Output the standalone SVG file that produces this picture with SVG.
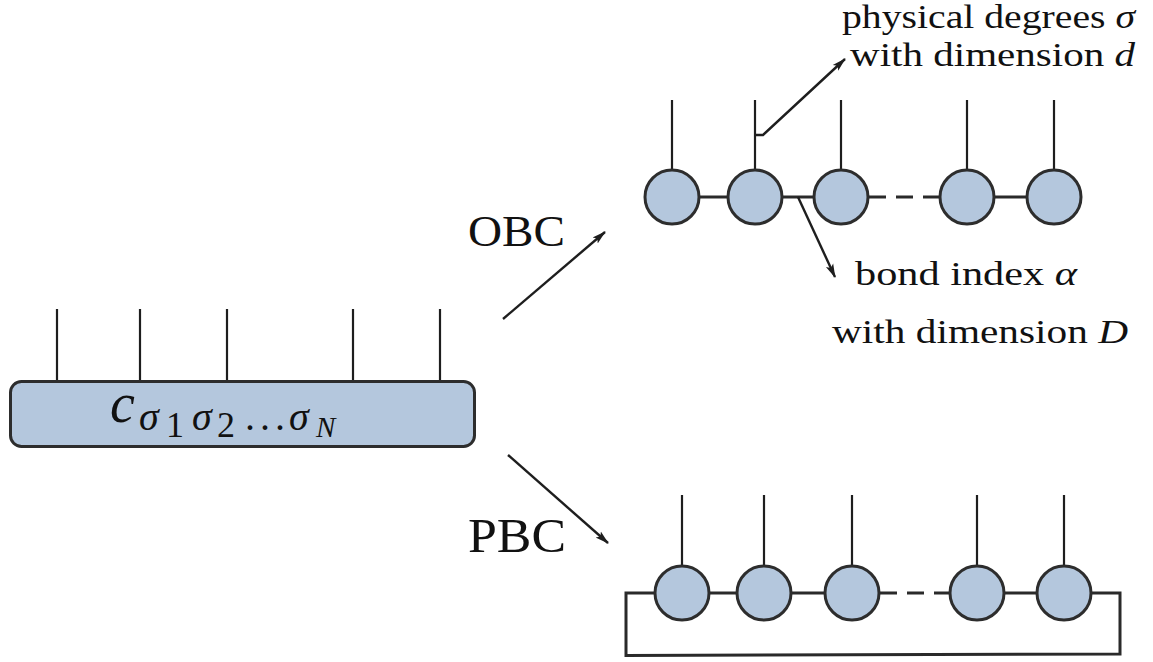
<svg xmlns="http://www.w3.org/2000/svg" width="1153" height="662" viewBox="0 0 1153 662">
  <defs>
    <marker id="arrow" viewBox="0 0 14 10" refX="13" refY="5" markerWidth="14" markerHeight="10" markerUnits="userSpaceOnUse" orient="auto">
      <path d="M0,1 L14,5 L0,9 L3,5 Z" fill="#1e1e1e"/>
    </marker>
  </defs>
  <style>
    .site { fill: #b4c7dd; stroke: #2d2d2d; stroke-width: 3; }
    .box { fill: #b4c7dd; stroke: #2d2d2d; stroke-width: 3; }
    .leg { stroke: #1e1e1e; stroke-width: 2.2; fill: none; }
    .bond { stroke: #2a2a2a; stroke-width: 3; fill: none; }
    .dash { stroke: #2a2a2a; stroke-width: 3; fill: none; stroke-dasharray: 17 10; }
    .arr { stroke: #1e1e1e; stroke-width: 2.4; fill: none; marker-end: url(#arrow); }
    .ann { stroke: #1e1e1e; stroke-width: 2.4; fill: none; }
    .lbl { font-family: "Liberation Serif", "DejaVu Serif", serif; fill: #111; }
    .it { font-style: italic; }
  </style>

  <!-- full coefficient tensor -->
  <g id="tensor">
    <line class="leg" x1="57" y1="309" x2="57" y2="381"/>
    <line class="leg" x1="140" y1="309" x2="140" y2="381"/>
    <line class="leg" x1="227" y1="309" x2="227" y2="381"/>
    <line class="leg" x1="353" y1="309" x2="353" y2="381"/>
    <line class="leg" x1="440" y1="309" x2="440" y2="381"/>
    <rect class="box" x="10.5" y="381.5" width="464" height="65" rx="11" ry="11"/>
    <g class="lbl">
      <text class="it" x="110" y="422" font-size="56">c</text>
      <text class="it" x="139" y="430" font-size="40">σ</text>
      <text x="166" y="437" font-size="36">1</text>
      <text class="it" x="192" y="430" font-size="40">σ</text>
      <text x="217" y="437" font-size="36">2</text>
      <text x="245" y="430" font-size="40" textLength="40" lengthAdjust="spacing">...</text>
      <text class="it" x="289" y="430" font-size="40">σ</text>
      <text class="it" x="316" y="437" font-size="29">N</text>
    </g>
  </g>

  <!-- open boundary MPS -->
  <g id="obc-chain">
    <line class="leg" x1="672" y1="100" x2="672" y2="170"/>
    <line class="leg" x1="755" y1="100" x2="755" y2="170"/>
    <line class="leg" x1="841" y1="100" x2="841" y2="170"/>
    <line class="leg" x1="967" y1="100" x2="967" y2="170"/>
    <line class="leg" x1="1054" y1="100" x2="1054" y2="170"/>
    <line class="bond" x1="699" y1="197" x2="728" y2="197"/>
    <line class="bond" x1="782" y1="197" x2="814" y2="197"/>
    <line class="dash" x1="869" y1="197" x2="940" y2="197"/>
    <line class="bond" x1="994" y1="197" x2="1027" y2="197"/>
    <circle class="site" cx="672" cy="197" r="27"/>
    <circle class="site" cx="755" cy="197" r="27"/>
    <circle class="site" cx="841" cy="197" r="27"/>
    <circle class="site" cx="967" cy="197" r="27"/>
    <circle class="site" cx="1054" cy="197" r="27"/>
  </g>

  <!-- periodic boundary MPS -->
  <g id="pbc-chain">
    <line class="leg" x1="682" y1="495" x2="682" y2="565"/>
    <line class="leg" x1="764" y1="495" x2="764" y2="565"/>
    <line class="leg" x1="852" y1="495" x2="852" y2="565"/>
    <line class="leg" x1="977" y1="495" x2="977" y2="565"/>
    <line class="leg" x1="1064" y1="495" x2="1064" y2="565"/>
    <path class="bond" d="M655,593 L626,593 L626,655.5 L1120,654 L1120,593 L1091,593"/>
    <line class="bond" x1="709" y1="593" x2="737" y2="593"/>
    <line class="bond" x1="791" y1="593" x2="825" y2="593"/>
    <line class="dash" x1="880" y1="593" x2="950" y2="593"/>
    <line class="bond" x1="1004" y1="593" x2="1037" y2="593"/>
    <circle class="site" cx="682" cy="593" r="27"/>
    <circle class="site" cx="764" cy="593" r="27"/>
    <circle class="site" cx="852" cy="593" r="27"/>
    <circle class="site" cx="977" cy="593" r="27"/>
    <circle class="site" cx="1064" cy="593" r="27"/>
  </g>

  <!-- arrows and annotation pointers -->
  <g id="connectors">
    <line class="arr" x1="503" y1="319" x2="605" y2="232"/>
    <line class="arr" x1="508" y1="455" x2="608" y2="543"/>
    <polyline class="ann" points="755,135 763,135 845,59" marker-end="url(#arrow)"/>
    <line class="arr" x1="798" y1="197" x2="835" y2="277"/>
  </g>

  <g id="labels" class="lbl">
    <text x="468" y="246" font-size="44" textLength="97" lengthAdjust="spacingAndGlyphs">OBC</text>
    <text x="468" y="552" font-size="48" textLength="98" lengthAdjust="spacingAndGlyphs">PBC</text>
    <text x="842" y="28" font-size="33" textLength="293" lengthAdjust="spacingAndGlyphs">physical degrees <tspan class="it">σ</tspan></text>
    <text x="850" y="66" font-size="34" textLength="285" lengthAdjust="spacingAndGlyphs">with dimension <tspan class="it">d</tspan></text>
    <text x="855" y="285" font-size="34" textLength="222" lengthAdjust="spacingAndGlyphs">bond index <tspan class="it">α</tspan></text>
    <text x="832" y="343" font-size="34" textLength="296" lengthAdjust="spacingAndGlyphs">with dimension <tspan class="it">D</tspan></text>
  </g>
</svg>
